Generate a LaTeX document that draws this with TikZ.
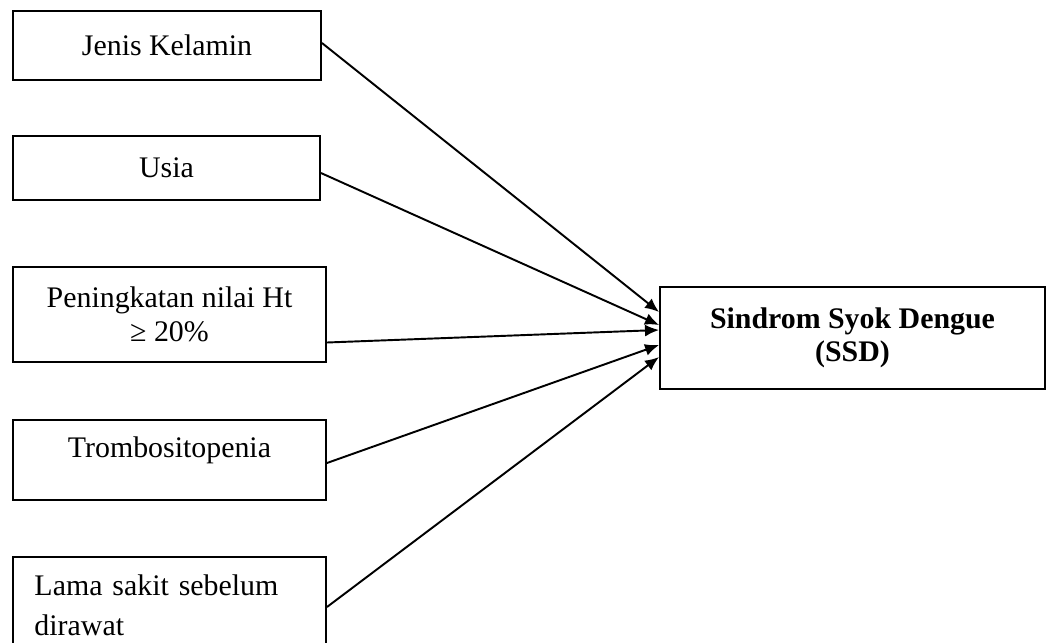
\documentclass[tikz,border=0pt]{standalone}
\usepackage{fontspec}
\setmainfont{Liberation Serif}
\usetikzlibrary{positioning, arrows.meta}

\begin{document}
\begin{tikzpicture}[>={Latex[length=0.28cm, width=0.24cm]},
  block/.style={draw, line width=1.1pt, minimum width=6.26cm,
    font=\fontsize{17}{19}\selectfont, align=center},
  arrow/.style={->, line width=1.1pt}]

\useasboundingbox (0,0) rectangle (20.92,-12.84);
\clip (0,0) rectangle (20.92,-12.84);

% --- Factors ---
\node[block, minimum width=6.16cm, minimum height=1.38cm] (jenis) at (3.34,-0.91) {Jenis Kelamin};
\node[block, minimum width=6.14cm, minimum height=1.28cm] (usia) at (3.33,-3.36) {Usia};
\node[block, minimum height=1.90cm] (ht) at (3.39,-6.29) {Peningkatan nilai Ht\\≥ 20\%};
\node[block, minimum height=1.60cm, text depth=0.53cm] (trombo) at (3.39,-9.20) {Trombositopenia};
\node[block, minimum height=1.92cm, text width=5.4cm, align=left,
  font=\fontsize{17}{22.8}\selectfont] (lama) at (3.39,-12.10) {Lama sakit sebelum\\dirawat};

% --- Outcome ---
\node[block, minimum width=7.70cm, minimum height=2.04cm,
  font=\fontsize{17}{19}\selectfont\bfseries] (ssd) at (17.05,-6.76) {Sindrom Syok Dengue\\(SSD)};

% --- Arrows ---
\draw[arrow] ([yshift=0.05cm]jenis.east) -- ([yshift=0.52cm]ssd.west);
\draw[arrow] ([yshift=-0.10cm]usia.east) -- ([yshift=0.26cm]ssd.west);
\draw[arrow] ([yshift=-0.56cm]ht.east) -- ([yshift=0.16cm]ssd.west);
\draw[arrow] ([yshift=-0.06cm]trombo.east) -- ([yshift=-0.14cm]ssd.west);
\draw[arrow] ([yshift=-0.04cm]lama.east) -- ([yshift=-0.38cm]ssd.west);

\end{tikzpicture}
\end{document}
